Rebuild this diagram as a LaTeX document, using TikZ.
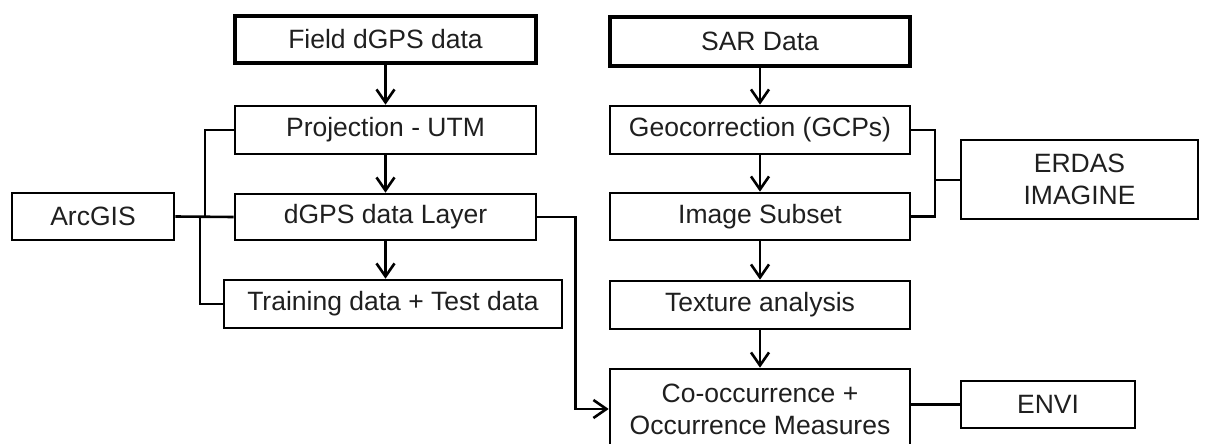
\documentclass[tikz,border=0pt]{standalone}
\usepackage{fontspec}
\setmainfont{Liberation Sans}
\usetikzlibrary{arrows.meta}
\begin{document}
\begin{tikzpicture}[x=1pt,y=-1pt,
  box/.style={draw=black, line width=2.6pt, inner sep=0pt, align=center,
    font=\fontsize{26.5}{32}\selectfont, text=black!88},
  thickbox/.style={box, line width=4pt},
  link/.style={draw=black, line width=2.6pt},
  arr/.style={link, -{Straight Barb[length=13pt,width=18pt,line width=2.6pt]}}]
\useasboundingbox (0,0) rectangle (1205,444);
\fill[white] (0,0) rectangle (1205,444);
% left column
\node[thickbox, minimum width=301, minimum height=47] (field) at (385.5,39.5) {Field dGPS data};
\node[box, minimum width=301, minimum height=48] (proj) at (385.5,130) {Projection - UTM};
\node[box, minimum width=301, minimum height=46] (layer) at (385.5,217) {dGPS data Layer};
\node[box, minimum width=162, minimum height=47] (arc) at (93,216.5) {ArcGIS};
\node[box, minimum width=338, minimum height=48] (train) at (393,304) {Training data + Test data};
% right column
\node[thickbox, minimum width=300, minimum height=49] (sar) at (760,41.5) {SAR Data};
\node[box, minimum width=300, minimum height=48] (geo) at (760,130) {Geocorrection (GCPs)};
\node[box, minimum width=300, minimum height=47] (sub) at (760,216.5) {Image Subset};
\node[box, minimum width=300, minimum height=48] (tex) at (760,305) {Texture analysis};
\node[box, minimum width=300, minimum height=80] (co) at (760,409) {Co-occurrence +\\Occurrence Measures};
\node[box, minimum width=237, minimum height=79] (erdas) at (1079.5,179.5) {ERDAS\\IMAGINE};
\node[box, minimum width=174, minimum height=47] (envi) at (1048,404.5) {ENVI};
% arrows
\draw[arr] (field.south) -- (proj.north);
\draw[arr] (proj.south) -- (layer.north);
\draw[arr] (layer.south) -- (layer.south |- train.north);
\draw[arr] (sar.south) -- (geo.north);
\draw[arr] (geo.south) -- (sub.north);
\draw[arr] (sub.south) -- (tex.north);
\draw[arr] (tex.south) -- (co.north);
\draw[arr] (layer.east) -- ++(38,0) |- (co.west);
% ArcGIS links
\coordinate (j1) at (205,217);
\coordinate (j2) at (200,217);
\draw[link] (arc.east) -- (layer.west);
\draw[link] (j1) |- (proj.west);
\draw[link] (j2) |- (train.west);
% ERDAS links
\coordinate (j3) at (935,180);
\draw[link] (geo.east) -- (j3 |- geo.east) -- (j3 |- sub.east) -- (sub.east);
\draw[link] (j3) -- (j3 -| erdas.west);
% ENVI link
\draw[link] (co.east |- envi.west) -- (envi.west);
\end{tikzpicture}
\end{document}
